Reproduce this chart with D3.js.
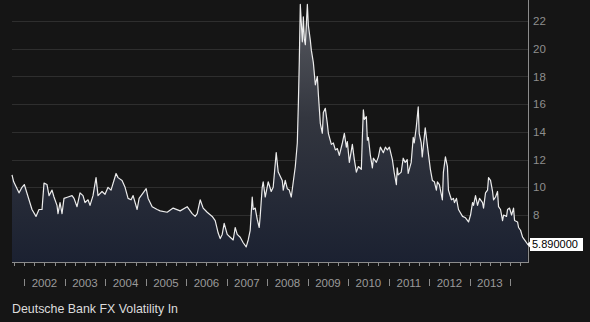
<!DOCTYPE html>
<html>
<head>
<meta charset="utf-8">
<script src="https://cdn.jsdelivr.net/npm/d3@7"></script>
<style>
  body { margin: 0; background: #151515; }
  svg { display: block; }
  text { font-family: "Liberation Sans", Arial, sans-serif; }
</style>
</head>
<body>
<div id="chart"></div>
<script>
// decimal years
var t = [
  2001.696, 2001.738, 2001.869, 2001.943, 2002.000, 2002.190, 2002.289, 2002.363, 2002.438, 2002.487,
  2002.561, 2002.611, 2002.685, 2002.734, 2002.808, 2002.833, 2002.883, 2002.932, 2002.981, 2003.080,
  2003.180, 2003.229, 2003.303, 2003.377, 2003.451, 2003.501, 2003.575, 2003.624, 2003.698, 2003.773,
  2003.822, 2003.921, 2003.995, 2004.069, 2004.143, 2004.267, 2004.316, 2004.415, 2004.489, 2004.563,
  2004.637, 2004.687, 2004.786, 2004.835, 2004.934, 2005.009, 2005.058, 2005.157, 2005.281, 2005.355,
  2005.528, 2005.676, 2005.849, 2006.022, 2006.146, 2006.220, 2006.270, 2006.344, 2006.418, 2006.517,
  2006.641, 2006.715, 2006.789, 2006.839, 2006.888, 2006.937, 2007.012, 2007.086, 2007.160, 2007.209,
  2007.259, 2007.333, 2007.407, 2007.481, 2007.531, 2007.580, 2007.630, 2007.655, 2007.704, 2007.753,
  2007.803, 2007.827, 2007.877, 2007.901, 2007.951, 2008.025, 2008.099, 2008.148, 2008.222, 2008.272,
  2008.371, 2008.396, 2008.445, 2008.495, 2008.544, 2008.594, 2008.643, 2008.693, 2008.742, 2008.767,
  2008.792, 2008.816, 2008.866, 2008.891, 2008.915, 2008.940, 2008.990, 2009.014, 2009.064, 2009.088,
  2009.138, 2009.187, 2009.237, 2009.262, 2009.311, 2009.360, 2009.385, 2009.434, 2009.484, 2009.509,
  2009.583, 2009.632, 2009.682, 2009.731, 2009.780, 2009.855, 2009.904, 2009.954, 2009.978, 2010.028,
  2010.102, 2010.151, 2010.201, 2010.250, 2010.324, 2010.349, 2010.374, 2010.399, 2010.448, 2010.473,
  2010.498, 2010.547, 2010.597, 2010.621, 2010.695, 2010.745, 2010.794, 2010.868, 2010.918, 2010.967,
  2011.017, 2011.091, 2011.140, 2011.190, 2011.210, 2011.235, 2011.309, 2011.358, 2011.408, 2011.457,
  2011.482, 2011.556, 2011.606, 2011.631, 2011.680, 2011.730, 2011.754, 2011.804, 2011.829, 2011.854,
  2011.903, 2011.953, 2011.978, 2012.030, 2012.079, 2012.129, 2012.178, 2012.203, 2012.252, 2012.326,
  2012.351, 2012.401, 2012.450, 2012.475, 2012.549, 2012.599, 2012.624, 2012.673, 2012.723, 2012.822,
  2012.896, 2012.970, 2013.020, 2013.069, 2013.094, 2013.143, 2013.193, 2013.242, 2013.316, 2013.341,
  2013.390, 2013.440, 2013.465, 2013.514, 2013.564, 2013.588, 2013.638, 2013.687, 2013.712, 2013.761,
  2013.811, 2013.836, 2013.910, 2013.934, 2013.984, 2014.034, 2014.083, 2014.108, 2014.182, 2014.207,
  2014.256, 2014.306, 2014.355, 2014.430
];

// volatility index values
var vol = [
  10.9, 10.4, 9.6, 10.0, 10.2, 8.4, 7.9, 8.4, 8.4, 10.3,
  10.2, 9.4, 9.8, 9.3, 8.7, 8.1, 8.9, 8.1, 9.2, 9.3,
  9.4, 9.2, 8.6, 9.6, 9.4, 8.9, 9.1, 8.7, 9.4, 10.7,
  9.4, 9.7, 9.5, 10.0, 9.8, 11.0, 10.7, 10.5, 10.0, 9.2,
  9.1, 9.4, 8.4, 9.2, 9.6, 9.9, 9.2, 8.6, 8.4, 8.3,
  8.2, 8.5, 8.3, 8.6, 8.1, 7.9, 8.1, 9.1, 8.5, 8.2,
  7.9, 7.6, 6.7, 6.3, 6.6, 7.4, 6.6, 6.4, 6.2, 7.1,
  6.6, 6.4, 6.0, 5.7, 6.2, 6.9, 9.3, 8.4, 8.5, 7.7,
  7.1, 7.9, 10.0, 10.4, 9.3, 10.4, 9.7, 10.0, 12.5, 11.1,
  10.5, 9.8, 10.5, 9.9, 9.8, 9.3, 10.4, 11.5, 13.2, 15.9,
  19.2, 23.2, 20.5, 22.3, 20.7, 20.3, 23.2, 21.7, 20.6, 19.9,
  19.0, 17.4, 18.0, 16.7, 14.6, 13.9, 15.4, 15.7, 14.6, 13.9,
  13.1, 13.2, 12.7, 12.8, 12.3, 13.2, 13.9, 12.9, 13.3, 11.8,
  13.1, 12.0, 11.1, 11.5, 11.3, 13.6, 15.6, 14.9, 15.1, 13.4,
  13.6, 12.3, 11.4, 12.1, 11.8, 12.2, 12.9, 12.5, 12.9, 12.7,
  12.9, 12.0, 11.0, 10.2, 11.4, 10.9, 11.1, 12.1, 11.8, 12.0,
  11.0, 11.8, 13.6, 13.2, 14.3, 15.8, 13.9, 13.2, 12.2, 12.9,
  14.3, 13.1, 12.5, 11.3, 10.5, 10.4, 9.8, 10.4, 10.2, 9.1,
  11.1, 12.2, 11.5, 9.8, 9.1, 9.2, 8.9, 9.2, 8.4, 7.9,
  7.8, 7.5, 8.0, 8.9, 8.7, 9.4, 8.7, 9.2, 8.9, 8.5,
  9.6, 9.8, 10.7, 10.5, 9.7, 9.1, 9.3, 9.7, 8.6, 8.4,
  7.6, 8.0, 7.9, 8.4, 8.5, 8.0, 8.5, 7.6, 7.5, 7.1,
  6.9, 6.4, 6.2, 5.89
];

var yTicks = [8, 10, 12, 14, 16, 18, 20, 22];
var yearLabels = ['2002', '2003', '2004', '2005', '2006', '2007', '2008', '2009', '2010', '2011', '2012', '2013'];
var lastLabel = '5.890000';
var title = 'Deutsche Bank FX Volatility In';

var width = 590, height = 322;
var plotLeft = 12, plotRight = 528, plotTop = 0, plotBottom = 262;

function toDate(y) {
	var yr = Math.floor(y);
	var a = new Date(yr, 0, 1), b = new Date(yr + 1, 0, 1);
	return new Date(+a + (y - yr) * (b - a));
}

var data = t.map(function(d, i) { return { date: toDate(d), v: vol[i] }; });

var x = d3.scaleTime()
	.domain([toDate(2001.696), toDate(2014.44)])
	.range([plotLeft, plotRight]);

var y = d3.scaleLinear()
	.domain([4.61, 23.52])
	.range([plotBottom, plotTop]);

var svg = d3.select('#chart')
	.append('svg')
	.attr('width', width)
	.attr('height', height);

svg.append('rect')
	.attr('width', width)
	.attr('height', height)
	.attr('fill', '#151515');

var grad = svg.append('defs').append('linearGradient')
	.attr('id', 'areaGrad')
	.attr('gradientUnits', 'userSpaceOnUse')
	.attr('x1', 0).attr('y1', plotTop)
	.attr('x2', 0).attr('y2', plotBottom);
grad.append('stop').attr('offset', '0%').attr('stop-color', '#5a5c62');
grad.append('stop').attr('offset', '45%').attr('stop-color', '#33363f');
grad.append('stop').attr('offset', '100%').attr('stop-color', '#1b2131');

// gridlines
svg.append('g')
	.selectAll('line')
	.data(yTicks)
	.enter().append('line')
	.attr('x1', plotLeft)
	.attr('x2', plotRight)
	.attr('y1', function(d) { return Math.round(y(d)) + 0.5; })
	.attr('y2', function(d) { return Math.round(y(d)) + 0.5; })
	.attr('stroke', '#2e2e2e')
	.attr('stroke-width', 1);

var area = d3.area()
	.x(function(d) { return x(d.date); })
	.y0(plotBottom)
	.y1(function(d) { return y(d.v); });

var line = d3.line()
	.x(function(d) { return x(d.date); })
	.y(function(d) { return y(d.v); });

svg.append('path')
	.datum(data)
	.attr('d', area)
	.attr('fill', 'url(#areaGrad)');

svg.append('path')
	.datum(data)
	.attr('d', line)
	.attr('fill', 'none')
	.attr('stroke', '#ececec')
	.attr('stroke-width', 1.2)
	.attr('stroke-linejoin', 'round');

// right and bottom border
svg.append('line')
	.attr('x1', plotRight + 0.5).attr('x2', plotRight + 0.5)
	.attr('y1', plotTop).attr('y2', plotBottom + 1)
	.attr('stroke', '#8c8c8c');
svg.append('line')
	.attr('x1', plotLeft).attr('x2', plotRight + 1)
	.attr('y1', plotBottom + 0.5).attr('y2', plotBottom + 0.5)
	.attr('stroke', '#8c8c8c');

// quarterly ticks
svg.append('g')
	.selectAll('line')
	.data(d3.timeMonth.every(3).range(x.domain()[0], x.domain()[1]))
	.enter().append('line')
	.attr('x1', function(d) { return Math.round(x(d)) + 0.5; })
	.attr('x2', function(d) { return Math.round(x(d)) + 0.5; })
	.attr('y1', plotBottom)
	.attr('y2', plotBottom + 4)
	.attr('stroke', '#8c8c8c');

// year separators
var yearStarts = yearLabels.map(function(d) { return new Date(+d, 0, 1); });
yearStarts.push(new Date(+yearLabels[yearLabels.length - 1] + 1, 0, 1));

svg.append('g')
	.selectAll('line')
	.data(yearStarts)
	.enter().append('line')
	.attr('x1', function(d) { return Math.round(x(d)) + 0.5; })
	.attr('x2', function(d) { return Math.round(x(d)) + 0.5; })
	.attr('y1', 279)
	.attr('y2', 286)
	.attr('stroke', '#8a8a8a');

svg.append('g')
	.selectAll('text')
	.data(yearLabels)
	.enter().append('text')
	.attr('x', function(d) { return x(new Date(+d, 6, 2)); })
	.attr('y', 287)
	.attr('text-anchor', 'middle')
	.attr('fill', '#9a9a9a')
	.style('font-size', '11.5px')
	.text(function(d) { return d; });

// y labels on the right
svg.append('g')
	.selectAll('text')
	.data(yTicks)
	.enter().append('text')
	.attr('x', plotRight + 5)
	.attr('y', function(d) { return y(d); })
	.attr('dy', '.36em')
	.attr('fill', '#8e8e8e')
	.style('font-size', '11.5px')
	.text(function(d) { return d; });

// last value marker
var last = data[data.length - 1];
var ly = Math.round(y(last.v)) + 0.5;
svg.append('path')
	.attr('d', 'M' + (plotRight - 1) + ',' + ly + 'L' + (plotRight + 3) + ',' + (ly - 4) + 'L' + (plotRight + 3) + ',' + (ly + 4) + 'Z')
	.attr('fill', '#ffffff');
svg.append('rect')
	.attr('x', plotRight + 2)
	.attr('y', ly - 6.5)
	.attr('width', 53)
	.attr('height', 13)
	.attr('fill', '#ffffff');
svg.append('text')
	.attr('x', plotRight + 4)
	.attr('y', ly)
	.attr('dy', '.36em')
	.attr('fill', '#000000')
	.style('font-size', '11px')
	.text(lastLabel);

// title
svg.append('text')
	.attr('x', 12)
	.attr('y', 313)
	.attr('fill', '#dcdcdc')
	.style('font-size', '12.4px')
	.text(title);
</script>
</body>
</html>
